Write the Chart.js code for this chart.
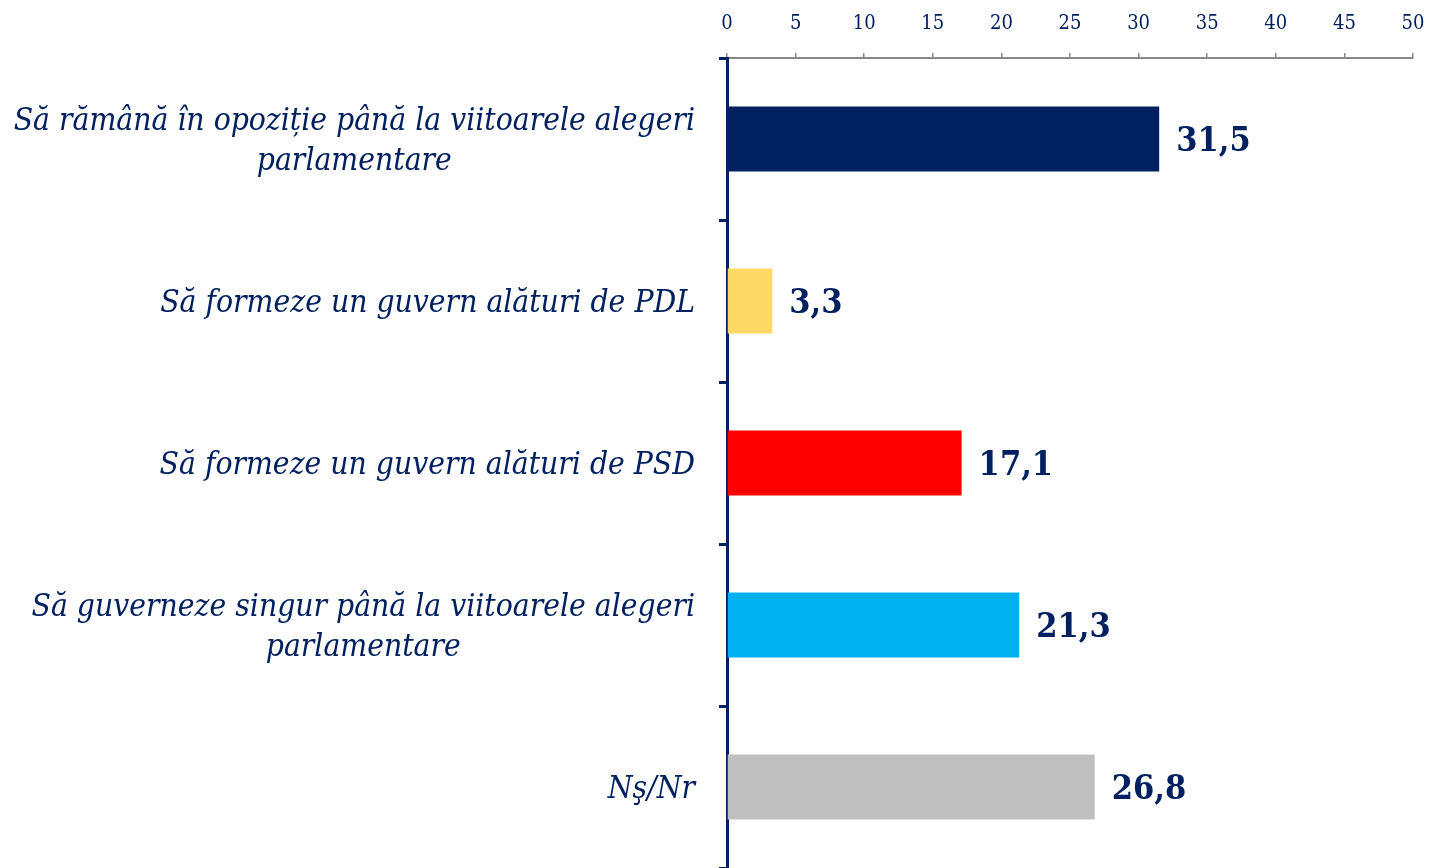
<!DOCTYPE html>
<html>
<head>
<meta charset="utf-8">
<script src="https://cdn.jsdelivr.net/npm/chart.js@4"></script>
<style>
  html, body { margin: 0; padding: 0; background: #ffffff; }
  #wrap { width: 1429px; height: 868px; }
</style>
</head>
<body>
<div id="wrap"><canvas id="chart" width="1429" height="868"></canvas></div>
<script>
const categories = [
  ["Să rămână în opoziție până la viitoarele alegeri", "parlamentare"],
  ["Să formeze un guvern alături de PDL"],
  ["Să formeze un guvern alături de PSD"],
  ["Să guverneze singur până la viitoarele alegeri", "parlamentare"],
  ["Nş/Nr"]
];
const values = [31.5, 3.3, 17.1, 21.3, 26.8];
const barColors = ["#002060", "#FFD966", "#FF0000", "#00B0F0", "#BFBFBF"];
const tickValues = [0, 5, 10, 15, 20, 25, 30, 35, 40, 45, 50];

const navy = "#002060";
const serif = "'DejaVu Serif Condensed', 'DejaVu Serif', serif";
const labelFont = "italic 31.5px " + serif;
const labelLineHeight = 40;
const labelRight = 695;

// category labels: block right-aligned, lines centred inside the block
const categoryLabels = {
  id: "categoryLabels",
  afterDraw(chart) {
    const ctx = chart.ctx;
    const yScale = chart.scales.y;
    ctx.save();
    ctx.fillStyle = navy;
    ctx.font = labelFont;
    ctx.textAlign = "center";
    ctx.textBaseline = "middle";
    categories.forEach((lines, i) => {
      const widest = Math.max(...lines.map(l => ctx.measureText(l).width));
      const cx = labelRight - widest / 2;
      const cy = yScale.getPixelForTick(i) + 3;
      const top = cy - (lines.length - 1) * labelLineHeight / 2;
      lines.forEach((l, j) => ctx.fillText(l, cx, top + j * labelLineHeight));
    });
    ctx.restore();
  }
};

// draw the value next to each bar
const valueLabels = {
  id: "valueLabels",
  afterDatasetsDraw(chart) {
    const ctx = chart.ctx;
    const meta = chart.getDatasetMeta(0);
    ctx.save();
    ctx.fillStyle = navy;
    ctx.font = "bold 34px " + serif;
    ctx.textAlign = "left";
    ctx.textBaseline = "middle";
    meta.data.forEach((bar, i) => {
      const txt = values[i].toFixed(1).replace(".", ",");
      ctx.fillText(txt, bar.x + 17, bar.y + 3);
    });
    ctx.restore();
  }
};

new Chart(document.getElementById("chart"), {
  type: "bar",
  data: {
    labels: categories.map(c => c.join(" ")),
    datasets: [{
      data: values,
      backgroundColor: barColors,
      borderWidth: 0,
      categoryPercentage: 1,
      barPercentage: 0.4
    }]
  },
  options: {
    indexAxis: "y",
    responsive: false,
    animation: false,
    layout: { padding: { right: 16, top: 0, bottom: 0, left: 0 } },
    plugins: { legend: { display: false }, tooltip: { enabled: false } },
    scales: {
      x: {
        position: "top",
        min: 0,
        max: 50,
        afterBuildTicks: (axis) => { axis.ticks = tickValues.map(v => ({ value: v })); },
        afterFit: (axis) => {
          axis.height = 58;
          axis.paddingLeft = 0;
          axis.paddingRight = 0;
        },
        grid: { drawOnChartArea: false, tickLength: 5, color: "#888888", lineWidth: 1.5 },
        border: { color: "#888888", width: 2 },
        ticks: { color: navy, padding: 17, maxRotation: 0, font: { family: serif, size: 20 } }
      },
      y: {
        offset: true,
        afterFit: (axis) => {
          axis.width = 727;
          axis.paddingTop = 0;
          axis.paddingBottom = 0;
        },
        grid: { drawOnChartArea: false, offset: true, tickLength: 8, color: navy, lineWidth: 3 },
        border: { color: navy, width: 3 },
        ticks: { display: false }
      }
    }
  },
  plugins: [valueLabels, categoryLabels]
});
</script>
</body>
</html>
